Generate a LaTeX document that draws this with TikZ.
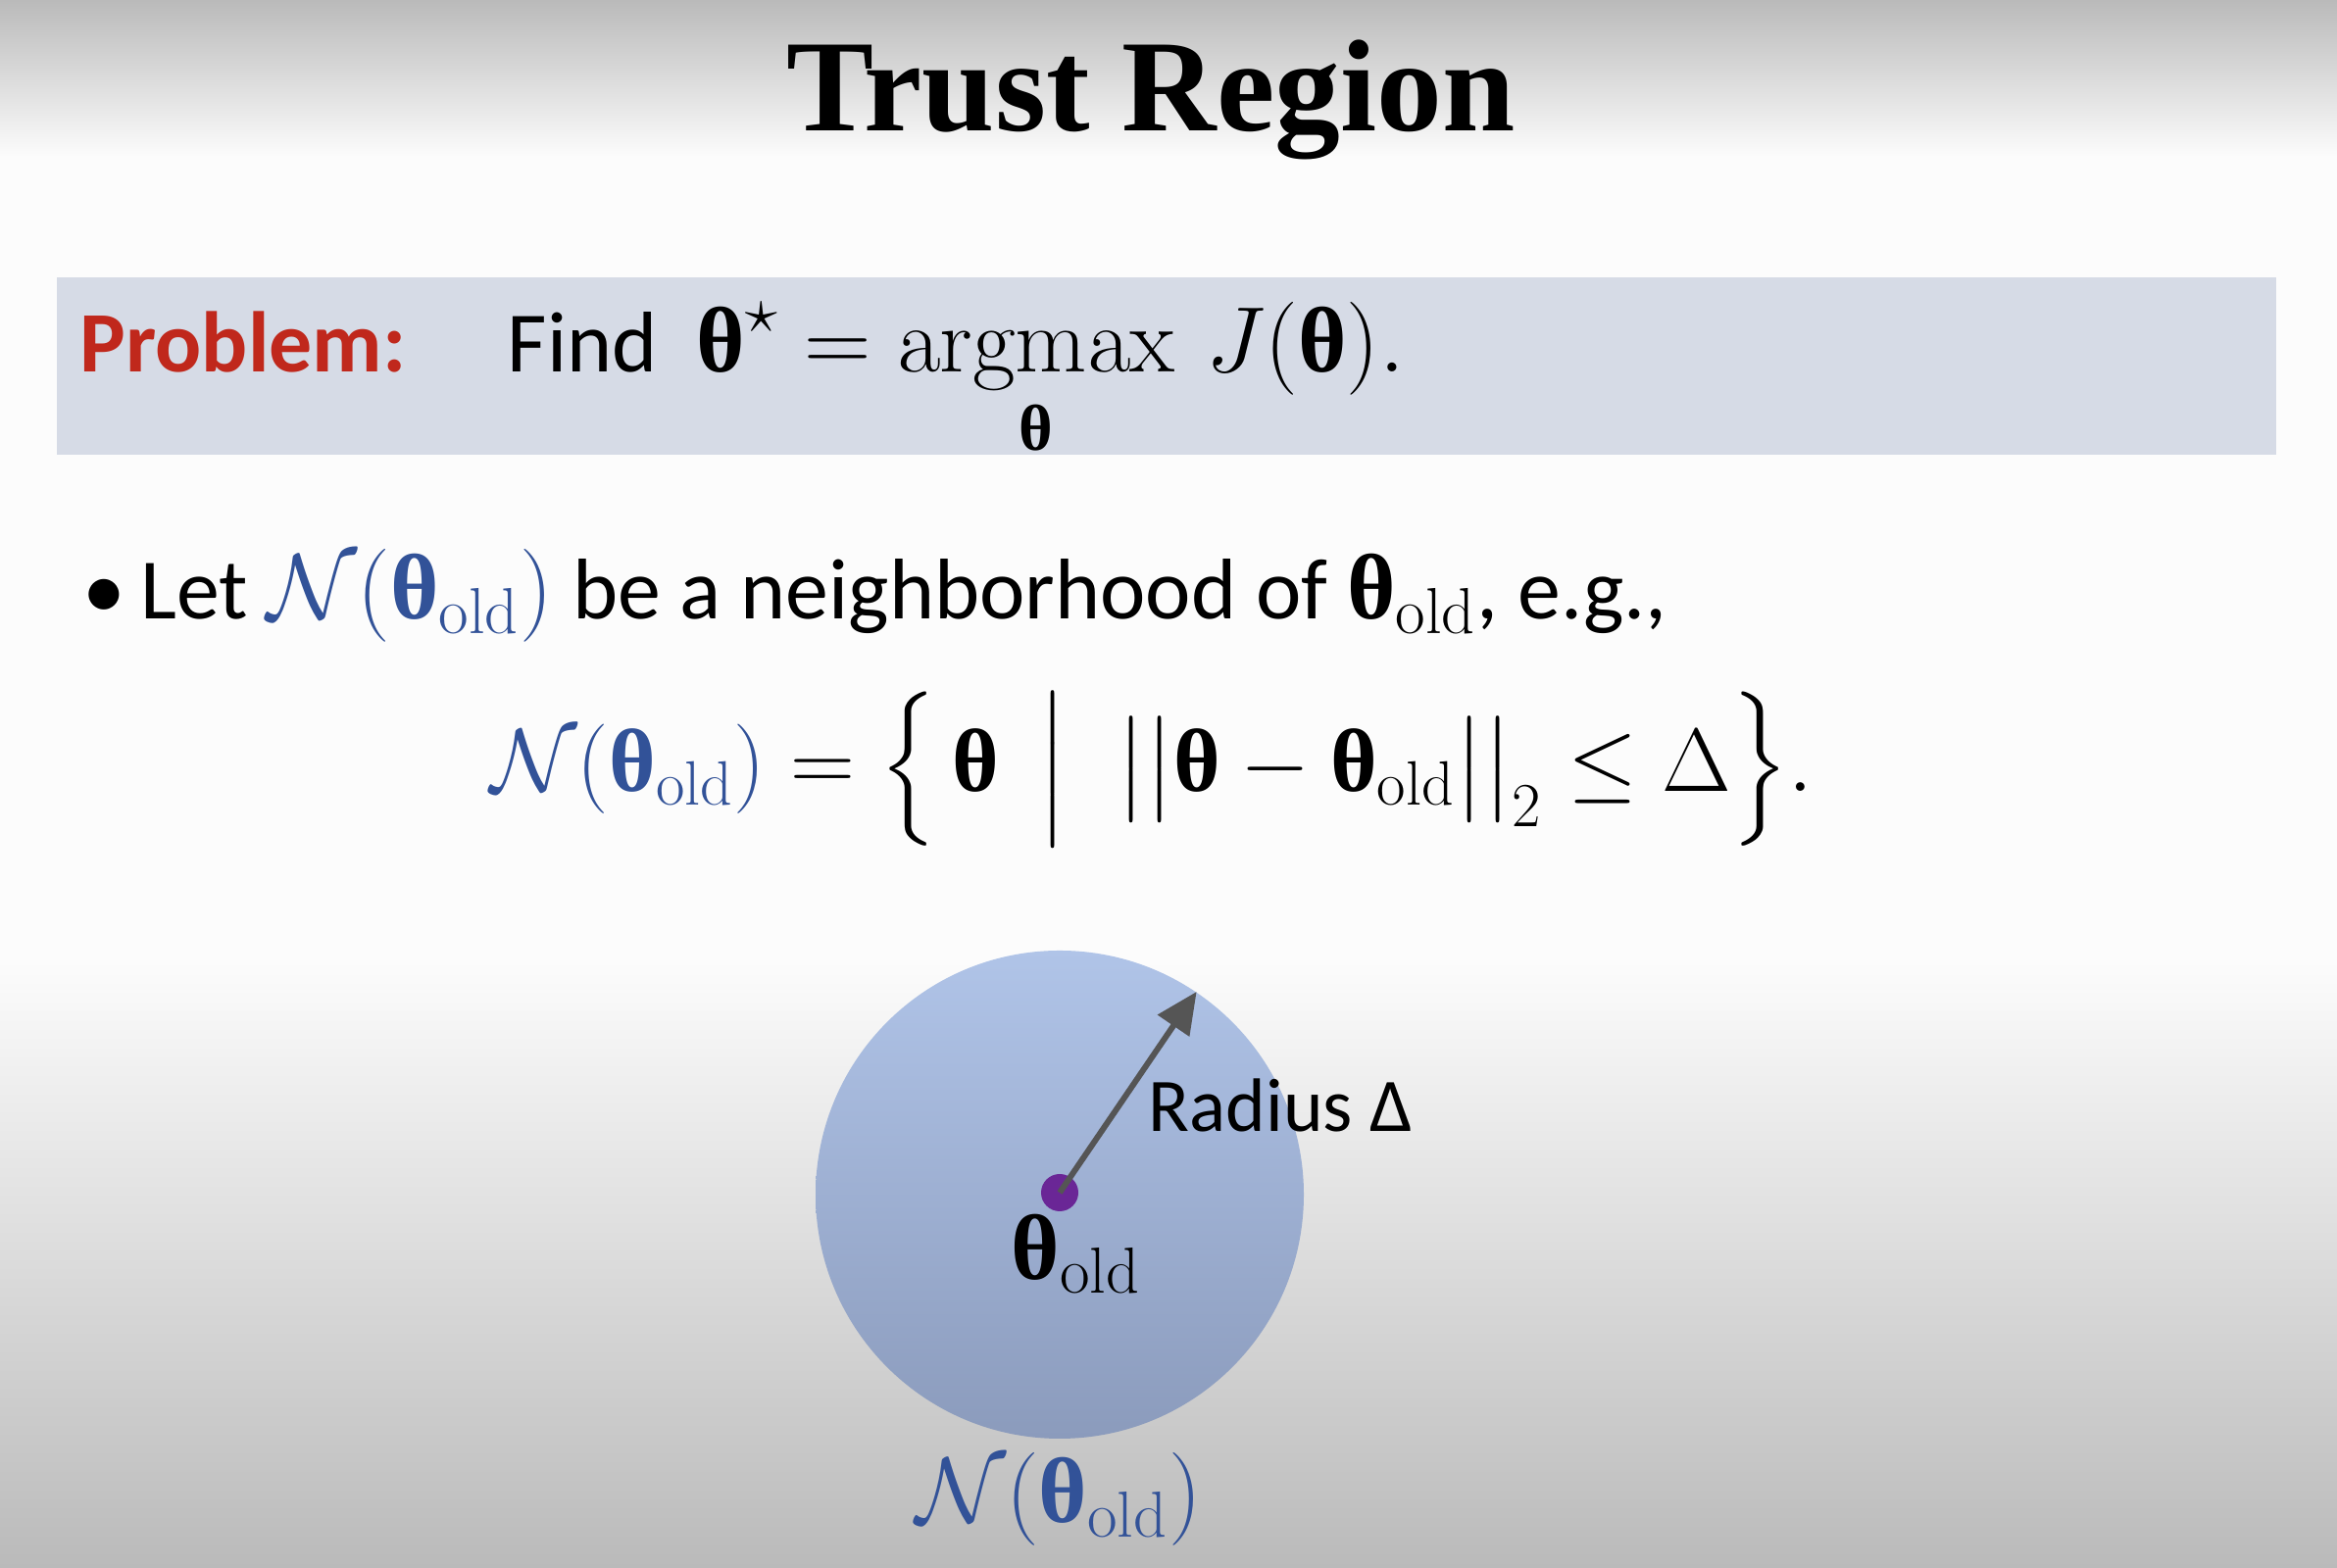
\RequirePackage{fix-cm}
\documentclass[tikz,border=0pt]{standalone}
\usepackage{amsmath}
\usepackage{bm}
\usepackage[no-math]{fontspec}
\setmainfont{Carlito}
\newfontfamily\titlefont{Liberation Serif}
\usetikzlibrary{arrows.meta,positioning}
\definecolor{slidegray}{RGB}{186,186,186}
\definecolor{slidewhite}{RGB}{252,252,252}
\definecolor{boxgray}{RGB}{214,219,230}
\definecolor{probred}{RGB}{192,40,28}
\definecolor{nblue}{RGB}{50,82,152}
\definecolor{circtop}{RGB}{176,196,232}
\definecolor{circbot}{RGB}{139,155,188}
\definecolor{dotpurple}{RGB}{106,38,150}
\definecolor{arrowgray}{RGB}{85,85,85}
% upright bold theta and larger math
\newcommand{\thb}{\text{\titlefont\bfseries θ}}
\newcommand{\thold}{\thb_{\mathrm{old}}}
\newcommand{\mth}[1]{{\fontsize{27}{32}\selectfont$#1$}}
\tikzset{
  heading/.style={
    font=\titlefont\bfseries\fontsize{38}{44}\selectfont,
    inner sep=0pt,
    anchor=base
  },
  plain/.style={
    font=\fontsize{25}{30}\selectfont,
    inner sep=0pt,
    anchor=base west
  },
  mathlbl/.style={
    font=\fontsize{27}{32}\selectfont,
    inner sep=0pt
  },
  probbox/.style={
    fill=boxgray,
    minimum width=22.64cm,
    minimum height=1.81cm,
    inner sep=0pt
  },
  region/.style={
    circle,
    top color=circtop,
    bottom color=circbot,
    minimum size=4.98cm,
    inner sep=0pt
  },
  dot/.style={
    circle,
    fill=dotpurple,
    minimum size=.38cm,
    inner sep=0pt
  },
  arrow/.style={
    -{Triangle[length=4.2mm,width=3.8mm]},
    line width=1.7pt,
    arrowgray
  }
}

\begin{document}
\begin{tikzpicture}
\useasboundingbox (0,0) rectangle (23.84,16);
% slide background
\fill[slidewhite] (0,0) rectangle (23.84,16);
\shade[top color=slidegray,bottom color=slidewhite] (0,14.4) rectangle (23.84,16);
\shade[top color=slidewhite,bottom color=slidegray] (0,0) rectangle (23.84,6.2);

\node[heading] (title) at (11.74,14.66) {Trust Region};

\node[probbox] (box) at (11.90,12.265) {};
\node[plain,font=\bfseries\fontsize{25}{30}\selectfont,text=probred] (prob) at (0.81,12.20) {Problem:};
\node[plain] (find) at (5.17,12.20)
  {Find\hspace{0.4cm}\mth{\displaystyle\thb^{\star}=\operatorname*{argmax}_{\thb}\,J(\thb).}};

\node[plain] (let) at (0.84,9.68)
  {•\hspace{0.15cm}Let \textcolor{nblue}{\mth{\mathcal{N}(\thold)}} be a neighborhood of \mth{\thold}, e.g.,};
\node[plain,mathlbl,font=\fontsize{26}{31}\selectfont,anchor=base] (set) at (11.75,7.92)
  {$\textcolor{nblue}{\mathcal{N}(\thold)}=\Bigl\{\,\thb\,\Bigm|\;\bigl|\bigl|\thb-\thold\bigr|\bigr|_2\leq\Delta\Bigr\}.$};

% trust region
\node[region] (trust) at (10.81,3.81) {};
\node[dot] (old) at (10.81,3.83) {};
\draw[arrow] (old.center) -- (trust.56);
\node[plain,font=\fontsize{22}{26}\selectfont] (radius) at (11.71,4.45) {Radius Δ};
\node[mathlbl,anchor=north,below=0.02cm of old,xshift=0.17cm] (oldlbl) {$\thold$};
\node[mathlbl,anchor=base,text=nblue] (nlbl) at (10.80,0.46) {$\mathcal{N}(\thold)$};
\end{tikzpicture}
\end{document}
